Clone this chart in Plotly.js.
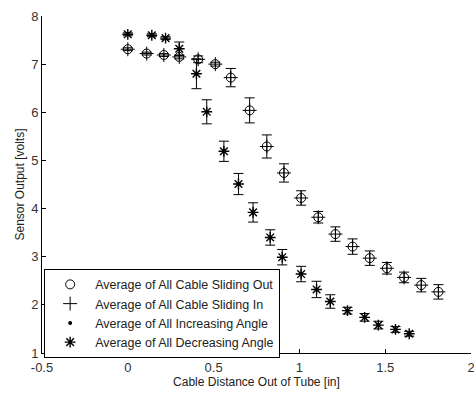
<!DOCTYPE html>
<html>
<head>
<meta charset="utf-8">
<script src="https://cdn.plot.ly/plotly-3.0.1.min.js"></script>
<style>html,body{margin:0;padding:0;background:#fff;}#chart{width:474px;height:396px;}</style>
</head>
<body>
<div id="chart"></div>
<script>
// Cable sliding (out / in) data
var slideX = [0, 0.11, 0.21, 0.30, 0.41, 0.51, 0.60, 0.71, 0.81, 0.91, 1.01, 1.11, 1.21, 1.31, 1.41, 1.51, 1.61, 1.71, 1.81];
var slideY = [7.31, 7.22, 7.19, 7.15, 7.10, 7.00, 6.72, 6.04, 5.29, 4.74, 4.22, 3.82, 3.47, 3.21, 2.97, 2.76, 2.57, 2.41, 2.27];
var slideErr = [0.03, 0.03, 0.03, 0.04, 0.07, 0.04, 0.19, 0.26, 0.24, 0.19, 0.15, 0.12, 0.15, 0.16, 0.15, 0.12, 0.11, 0.14, 0.15];
// Angle (increasing / decreasing) data
var angleX = [0, 0.14, 0.22, 0.30, 0.40, 0.46, 0.56, 0.645, 0.73, 0.83, 0.90, 1.01, 1.10, 1.18, 1.28, 1.38, 1.46, 1.56, 1.64];
var angleY = [7.62, 7.60, 7.54, 7.32, 6.80, 6.01, 5.19, 4.51, 3.92, 3.40, 2.99, 2.64, 2.32, 2.07, 1.88, 1.74, 1.58, 1.49, 1.40];
var angleErr = [0.03, 0.03, 0.03, 0.14, 0.31, 0.25, 0.21, 0.22, 0.20, 0.16, 0.16, 0.16, 0.17, 0.14, 0.07, 0.08, 0.08, 0.06, 0.05];
var legendNames = ['Average of All Cable Sliding Out', 'Average of All Cable Sliding In', 'Average of All Increasing Angle', 'Average of All Decreasing Angle'];
var xTicks = [-0.5, 0, 0.5, 1, 1.5, 2];
var yTicks = [1, 2, 3, 4, 5, 6, 7, 8];

var errStyle = function(arr){ return {type:'data', array:arr, visible:true, color:'#000', thickness:1, width:5}; };
var traces = [
  {x: slideX, y: slideY, name: legendNames[0], mode:'markers', type:'scatter',
   marker:{symbol:'circle-open', size:9, color:'#000', line:{width:1, color:'#000'}}},
  {x: slideX, y: slideY, name: legendNames[1], mode:'markers', type:'scatter',
   error_y: errStyle(slideErr),
   marker:{symbol:'cross-thin-open', size:10, color:'#000', line:{width:1, color:'#000'}}},
  {x: angleX, y: angleY, name: legendNames[2], mode:'markers', type:'scatter',
   marker:{symbol:'circle', size:4, color:'#000'}},
  {x: angleX, y: angleY, name: legendNames[3], mode:'markers', type:'scatter',
   error_y: errStyle(angleErr),
   marker:{symbol:'asterisk-open', size:9, color:'#000', line:{width:1.4, color:'#000'}}}
];

var layout = {
  width: 474, height: 396,
  margin: {l: 42, r: 3, t: 16, b: 43},
  paper_bgcolor: '#fff', plot_bgcolor: '#fff',
  font: {family: 'Liberation Sans, Arial, sans-serif', size: 12, color: '#222'},
  showlegend: true,
  legend: {x: 0.005, y: 0.25, xanchor: 'left', yanchor: 'top', bgcolor: '#fff',
           bordercolor: '#000', borderwidth: 1, font: {size: 12.5, color: '#222'},
           tracegroupgap: 0, itemwidth: 40},
  xaxis: {range: [-0.5, 2], tickvals: xTicks, ticktext: xTicks.map(String),
          showgrid: false, zeroline: false, showline: true, linecolor: '#000', linewidth: 1,
          ticks: 'inside', ticklen: 4, tickcolor: '#000', tickfont: {size: 13, color: '#333'},
          ticklabeloverflow: 'allow', ticklabelstandoff: 2,
          title: {text: 'Cable Distance Out of Tube [in]', font: {size: 12, color: '#222'}, standoff: 2}},
  yaxis: {range: [1, 8], tickvals: yTicks, showgrid: false, zeroline: false, showline: true,
          linecolor: '#000', linewidth: 1, ticks: 'inside', ticklen: 4, tickcolor: '#000',
          tickfont: {size: 13, color: '#333'},
          title: {text: 'Sensor Output [volts]', font: {size: 12, color: '#222'}, standoff: 3}}
};
Plotly.newPlot('chart', traces, layout, {displayModeBar: false, staticPlot: true});
</script>
</body>
</html>
